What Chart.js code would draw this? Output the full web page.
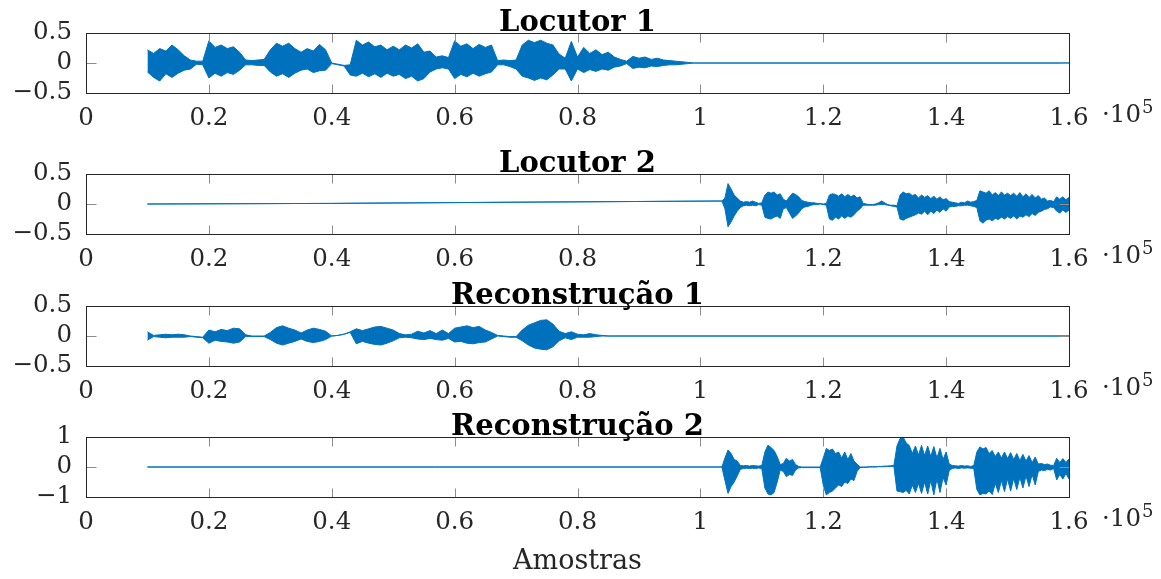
<!DOCTYPE html>
<html>
<head>
<meta charset="utf-8">
<script src="https://cdn.jsdelivr.net/npm/chart.js@4/dist/chart.umd.min.js"></script>
<style>
  body { margin: 0; background: #fff; width: 1161px; height: 579px; position: relative; overflow: hidden; }
  canvas { position: absolute; left: 0; }
</style>
</head>
<body>
<canvas id="loc1" width="1161" height="130" style="top:0px"></canvas>
<canvas id="loc2" width="1161" height="130" style="top:141px"></canvas>
<canvas id="rec1" width="1161" height="130" style="top:273px"></canvas>
<canvas id="rec2" width="1161" height="175" style="top:404px"></canvas>
<script>
// axis ticks (samples in units of 1e5)
const xTickValues = [0, 0.2, 0.4, 0.6, 0.8, 1, 1.2, 1.4, 1.6];
const xTickLabels = ['0', '0.2', '0.4', '0.6', '0.8', '1', '1.2', '1.4', '1.6'];
const ySmallTicks = [-0.5, 0, 0.5];
const ySmallLabels = ['\u22120.5', '0', '0.5'];
const yWideTicks = [-1, 0, 1];
const yWideLabels = ['\u22121', '0', '1'];
const panelTitles = ['Locutor 1', 'Locutor 2', 'Reconstru\u00e7\u00e3o 1', 'Reconstru\u00e7\u00e3o 2'];
const xAxisTitle = 'Amostras';

// Locutor 1: envelope from 0.10, every 0.01, then silence
const loc1Start = 0.10, loc1Step = 0.01;
const loc1Upper = [
  0.22, 0.16, 0.24, 0.20, 0.30, 0.22, 0.12, 0.05, 0.03, 0.03,
  0.37, 0.26, 0.30, 0.24, 0.27, 0.18, 0.05, 0.04, 0.05, 0.06,
  0.22, 0.33, 0.28, 0.33, 0.24, 0.18, 0.24, 0.20, 0.31, 0.22,
  0.00, -0.02, -0.04, -0.03, 0.38, 0.30, 0.35, 0.27, 0.30, 0.22,
  0.28, 0.22, 0.30, 0.25, 0.32, 0.18, 0.20, 0.10, 0.12, 0.09,
  0.37, 0.28, 0.32, 0.24, 0.31, 0.26, 0.30, 0.04, 0.05, 0.04,
  0.05, 0.30, 0.38, 0.34, 0.38, 0.33, 0.30, 0.15, 0.08, 0.36,
  0.10, 0.26, 0.16, 0.22, 0.14, 0.18, 0.10, 0.06, 0.03, 0.11,
  0.08, 0.10, 0.06, 0.08, 0.05, 0.04, 0.03, 0.02, 0.01, 0.00
];
const loc1Lower = [
  -0.15, -0.24, -0.30, -0.18, -0.24, -0.17, -0.12, -0.10, -0.02, -0.03,
  -0.25, -0.17, -0.22, -0.16, -0.19, -0.12, -0.03, -0.03, -0.04, -0.04,
  -0.15, -0.22, -0.18, -0.24, -0.17, -0.12, -0.10, -0.16, -0.13, -0.12,
  -0.01, -0.03, -0.05, -0.20, -0.22, -0.17, -0.23, -0.18, -0.24, -0.17,
  -0.22, -0.19, -0.26, -0.22, -0.30, -0.26, -0.15, -0.10, -0.08, -0.10,
  -0.26, -0.19, -0.23, -0.17, -0.22, -0.18, -0.15, -0.03, -0.03, -0.06,
  -0.10, -0.22, -0.25, -0.29, -0.25, -0.28, -0.20, -0.10, -0.10, -0.30,
  -0.10, -0.16, -0.11, -0.14, -0.10, -0.12, -0.07, -0.05, -0.01, -0.09,
  -0.07, -0.08, -0.05, -0.06, -0.04, -0.03, -0.03, -0.02, -0.01, 0.00
];
const loc1Lead = [];
const loc1Tail = [[1.60, 0]];

// Locutor 2: slow drift, then speech from 1.04 every 0.005
const loc2Lead = [[0.10, 0], [0.40, 0.01], [0.70, 0.03], [1.035, 0.05]];
const loc2Start = 1.04, loc2Step = 0.005;
const loc2Upper = [
  0.10, 0.34, 0.25, 0.15, 0.10, 0.05, 0.03, 0.04, 0.03, 0.05,
  0.03, 0.01, 0.02, 0.15, 0.20, 0.18, 0.20, 0.15, 0.17, 0.08,
  0.05, 0.12, 0.18, 0.16, 0.12, 0.06, 0.04, 0.03, 0.02, 0.02,
  0.01, 0.01, 0.00, 0.01, 0.15, 0.17, 0.16, 0.13, 0.17, 0.12,
  0.16, 0.12, 0.15, 0.10, 0.12, 0.01, 0.00, -0.01, -0.01, 0.00,
  0.02, 0.05, 0.02, -0.01, -0.02, -0.02, -0.03, 0.15, 0.20, 0.17,
  0.18, 0.14, 0.16, 0.10, 0.15, 0.11, 0.14, 0.09, 0.13, 0.08,
  0.12, 0.07, 0.09, 0.04, 0.03, 0.02, 0.01, 0.03, 0.02, 0.05,
  0.03, 0.04, 0.06, 0.22, 0.20, 0.18, 0.22, 0.15, 0.19, 0.14,
  0.20, 0.15, 0.18, 0.14, 0.18, 0.13, 0.19, 0.12, 0.17, 0.11,
  0.16, 0.10, 0.14, 0.08, 0.10, 0.05, 0.06, 0.04, 0.12, 0.08,
  0.12, 0.07, 0.11
];
const loc2Lower = [
  -0.08, -0.38, -0.30, -0.20, -0.12, -0.06, -0.03, -0.02, -0.03, -0.02,
  -0.03, -0.01, -0.02, -0.22, -0.24, -0.25, -0.22, -0.20, -0.24, -0.08,
  -0.06, -0.15, -0.24, -0.20, -0.15, -0.08, -0.05, -0.04, -0.02, -0.01,
  -0.01, 0.00, -0.01, -0.02, -0.25, -0.27, -0.22, -0.25, -0.20, -0.24,
  -0.20, -0.22, -0.18, -0.12, -0.08, -0.02, -0.02, -0.02, -0.02, -0.02,
  -0.01, -0.01, -0.01, -0.02, -0.03, -0.04, -0.05, -0.25, -0.27, -0.24,
  -0.22, -0.20, -0.18, -0.15, -0.17, -0.12, -0.18, -0.12, -0.16, -0.10,
  -0.14, -0.08, -0.12, -0.05, -0.04, -0.04, -0.03, -0.03, -0.02, -0.02,
  -0.03, -0.04, -0.06, -0.28, -0.32, -0.27, -0.25, -0.28, -0.24, -0.26,
  -0.22, -0.25, -0.21, -0.24, -0.20, -0.25, -0.20, -0.22, -0.18, -0.21,
  -0.16, -0.19, -0.14, -0.12, -0.09, -0.08, -0.05, -0.06, -0.12, -0.15,
  -0.10, -0.14, -0.10
];
const loc2Tail = [];

// Reconstrução 1: envelope from 0.10, every 0.01, then silence
const rec1Start = 0.10, rec1Step = 0.01;
const rec1Upper = [
  0.07, 0.01, 0.02, 0.03, 0.02, 0.03, 0.02, 0.00, -0.01, -0.02,
  0.10, 0.07, 0.11, 0.09, 0.13, 0.12, 0.02, 0.00, 0.00, 0.00,
  0.06, 0.14, 0.17, 0.13, 0.10, 0.05, 0.10, 0.13, 0.11, 0.08,
  0.00, 0.01, 0.03, 0.07, 0.12, 0.09, 0.12, 0.15, 0.16, 0.13,
  0.10, 0.04, 0.02, 0.03, 0.08, 0.05, 0.09, 0.04, 0.10, 0.04,
  0.13, 0.15, 0.17, 0.14, 0.16, 0.10, 0.06, 0.01, 0.00, -0.01,
  -0.01, 0.10, 0.18, 0.22, 0.26, 0.27, 0.20, 0.08, 0.04, 0.07,
  0.03, 0.02, 0.04, 0.02, 0.01, 0.00
];
const rec1Lower = [
  -0.07, -0.01, -0.02, -0.03, -0.02, -0.02, -0.02, -0.01, -0.02, -0.03,
  -0.12, -0.07, -0.09, -0.10, -0.12, -0.10, -0.01, -0.01, -0.01, -0.01,
  -0.06, -0.12, -0.15, -0.12, -0.09, -0.05, -0.09, -0.11, -0.09, -0.06,
  0.00, 0.01, 0.03, 0.06, -0.13, -0.09, -0.12, -0.14, -0.15, -0.12,
  -0.08, -0.03, -0.02, -0.03, -0.05, -0.06, -0.04, -0.06, -0.07, -0.04,
  -0.10, -0.09, -0.12, -0.13, -0.11, -0.10, -0.05, 0.00, -0.01, -0.02,
  -0.02, -0.08, -0.15, -0.20, -0.22, -0.23, -0.18, -0.08, -0.03, -0.06,
  -0.02, -0.02, -0.02, -0.01, 0.00, 0.00
];
const rec1Lead = [];
const rec1Tail = [[1.60, 0]];

// Reconstrução 2: silence, then speech from 1.04 every 0.005
const rec2Lead = [[0.10, 0], [1.035, 0]];
const rec2Start = 1.04, rec2Step = 0.005;
const rec2Upper = [
  0.30, 0.57, 0.45, 0.25, 0.20, 0.05, 0.04, 0.05, 0.03, 0.05,
  0.04, 0.03, 0.05, 0.50, 0.73, 0.65, 0.55, 0.35, 0.08, 0.12,
  0.29, 0.20, 0.25, 0.08, 0.02, 0.00, 0.00, 0.00, 0.00, 0.00,
  0.00, 0.00, 0.30, 0.62, 0.55, 0.60, 0.45, 0.50, 0.30, 0.50,
  0.25, 0.45, 0.20, 0.10, 0.00, 0.00, 0.00, 0.01, 0.01, 0.01,
  0.02, 0.02, 0.03, 0.03, 0.04, 0.05, 0.70, 0.95, 1.00, 0.80,
  0.72, 0.45, 0.70, 0.40, 0.72, 0.38, 0.70, 0.35, 0.68, 0.30,
  0.62, 0.25, 0.50, 0.10, 0.05, 0.04, 0.03, 0.05, 0.03, 0.04,
  0.02, 0.05, 0.50, 0.67, 0.60, 0.65, 0.45, 0.55, 0.35, 0.50,
  0.30, 0.50, 0.28, 0.48, 0.25, 0.45, 0.22, 0.42, 0.20, 0.38,
  0.15, 0.33, 0.10, 0.12, 0.08, 0.10, 0.06, 0.05, 0.29, 0.15,
  0.28, 0.15, 0.27
];
const rec2Lower = [
  -0.45, -0.88, -0.65, -0.50, -0.30, -0.08, -0.05, -0.04, -0.05, -0.04,
  -0.05, -0.03, -0.06, -0.70, -0.90, -0.93, -0.85, -0.50, -0.10, -0.15,
  -0.32, -0.25, -0.28, -0.10, -0.03, -0.02, -0.02, -0.02, -0.02, -0.02,
  -0.02, -0.02, -0.60, -0.93, -0.85, -0.80, -0.70, -0.60, -0.65, -0.50,
  -0.55, -0.40, -0.45, -0.15, -0.02, -0.01, -0.01, 0.00, 0.00, 0.00,
  0.01, 0.01, 0.01, 0.02, 0.02, 0.02, -0.80, -0.82, -0.85, -0.78,
  -0.90, -0.60, -0.85, -0.55, -0.88, -0.50, -0.90, -0.45, -0.93, -0.40,
  -0.85, -0.35, -0.60, -0.12, -0.05, -0.03, -0.05, -0.03, -0.04, -0.03,
  -0.04, -0.05, -0.75, -0.93, -0.88, -0.90, -0.80, -0.92, -0.55, -0.85,
  -0.45, -0.82, -0.40, -0.80, -0.38, -0.75, -0.35, -0.70, -0.30, -0.65,
  -0.25, -0.60, -0.15, -0.10, -0.12, -0.08, -0.10, -0.05, -0.43, -0.25,
  -0.40, -0.22, -0.40
];
const rec2Tail = [];

const lineBlue = '#0072BD';
const labelColor = '#262626';
const tickFont = { family: '"DejaVu Serif", serif', size: 24.5 };

// join the lead-in, the sampled envelope and the tail into one point list
function trace(lead, start, step, values, tail) {
  const pts = lead.map(([x, y]) => ({ x, y }));
  values.forEach((v, i) => pts.push({ x: +(start + i * step).toFixed(4), y: v }));
  tail.forEach(([x, y]) => pts.push({ x, y }));
  return pts;
}

// box, inward tick marks, panel title and the x10^5 multiplier
const framePlugin = {
  id: 'frame',
  afterDatasetsDraw(chart, args, opts) {
    const { ctx, chartArea: a, scales: { x, y } } = chart;
    const left = Math.round(a.left) + 0.5, right = Math.round(a.right) + 0.5;
    const top = Math.round(a.top) + 0.5, bottom = Math.round(a.bottom) + 0.5;
    ctx.save();
    ctx.strokeStyle = '#8c8c8c';
    ctx.lineWidth = 1;
    ctx.beginPath();
    x.ticks.forEach(t => {
      const px = Math.round(x.getPixelForValue(t.value)) + 0.5;
      ctx.moveTo(px, top); ctx.lineTo(px, top + 9);
      ctx.moveTo(px, bottom); ctx.lineTo(px, bottom - 9);
    });
    y.ticks.forEach(t => {
      const py = Math.round(y.getPixelForValue(t.value)) + 0.5;
      ctx.moveTo(left, py); ctx.lineTo(left + 10, py);
      ctx.moveTo(right, py); ctx.lineTo(right - 10, py);
    });
    ctx.stroke();
    ctx.strokeStyle = labelColor;
    ctx.strokeRect(left, top, right - left, bottom - top);

    ctx.fillStyle = '#000';
    ctx.font = 'bold 29px "DejaVu Serif", serif';
    ctx.textAlign = 'center';
    ctx.textBaseline = 'alphabetic';
    ctx.fillText(opts.text, (a.left + a.right) / 2, a.top - 2);

    ctx.fillStyle = labelColor;
    ctx.textAlign = 'left';
    ctx.font = '24.5px "DejaVu Serif", serif';
    const ex = a.right + 33;
    ctx.fillText('\u00b710', ex, a.bottom + 29);
    const w = ctx.measureText('\u00b710').width;
    ctx.font = '18px "DejaVu Serif", serif';
    ctx.fillText('5', ex + w + 1, a.bottom + 20);
    ctx.restore();
  }
};

function makePanel(id, title, upper, lower, yTicks, yLabels, withXTitle) {
  const canvas = document.getElementById(id);
  const xHeight = canvas.height - 93;
  new Chart(canvas, {
    type: 'line',
    data: {
      datasets: [{
        data: upper,
        borderColor: lineBlue,
        borderWidth: 1,
        pointRadius: 0,
        tension: 0,
        fill: false
      }, {
        data: lower,
        borderColor: lineBlue,
        backgroundColor: lineBlue,
        borderWidth: 1,
        pointRadius: 0,
        tension: 0,
        fill: '-1'
      }]
    },
    options: {
      responsive: false,
      animation: false,
      events: [],
      layout: { padding: { top: 33, right: 92, bottom: 0, left: 0 } },
      plugins: {
        legend: { display: false },
        tooltip: { enabled: false },
        frame: { text: title }
      },
      scales: {
        x: {
          type: 'linear',
          min: 0,
          max: 1.6,
          grid: { display: false, drawTicks: false },
          border: { display: false },
          afterBuildTicks: s => { s.ticks = xTickValues.map(v => ({ value: v })); },
          afterFit: s => { s.height = xHeight; },
          ticks: {
            callback: (v, i) => xTickLabels[i],
            font: tickFont,
            color: labelColor,
            padding: 11,
            maxRotation: 0,
            autoSkip: false
          },
          title: {
            display: withXTitle,
            text: xAxisTitle,
            color: labelColor,
            font: { family: '"DejaVu Serif", serif', size: 27 },
            padding: { top: 0, bottom: 1 }
          }
        },
        y: {
          type: 'linear',
          min: yTicks[0],
          max: yTicks[yTicks.length - 1],
          grid: { display: false, drawTicks: false },
          border: { display: false },
          afterBuildTicks: s => { s.ticks = yTicks.map(v => ({ value: v })); },
          afterFit: s => { s.width = 86; },
          ticks: {
            callback: (v, i) => yLabels[i],
            font: tickFont,
            color: labelColor,
            padding: 14,
            autoSkip: false
          }
        }
      }
    },
    plugins: [framePlugin]
  });
}

makePanel('loc1', panelTitles[0],
  trace(loc1Lead, loc1Start, loc1Step, loc1Upper, loc1Tail),
  trace(loc1Lead, loc1Start, loc1Step, loc1Lower, loc1Tail),
  ySmallTicks, ySmallLabels, false);
makePanel('loc2', panelTitles[1],
  trace(loc2Lead, loc2Start, loc2Step, loc2Upper, loc2Tail),
  trace(loc2Lead, loc2Start, loc2Step, loc2Lower, loc2Tail),
  ySmallTicks, ySmallLabels, false);
makePanel('rec1', panelTitles[2],
  trace(rec1Lead, rec1Start, rec1Step, rec1Upper, rec1Tail),
  trace(rec1Lead, rec1Start, rec1Step, rec1Lower, rec1Tail),
  ySmallTicks, ySmallLabels, false);
makePanel('rec2', panelTitles[3],
  trace(rec2Lead, rec2Start, rec2Step, rec2Upper, rec2Tail),
  trace(rec2Lead, rec2Start, rec2Step, rec2Lower, rec2Tail),
  yWideTicks, yWideLabels, true);
</script>
</body>
</html>
